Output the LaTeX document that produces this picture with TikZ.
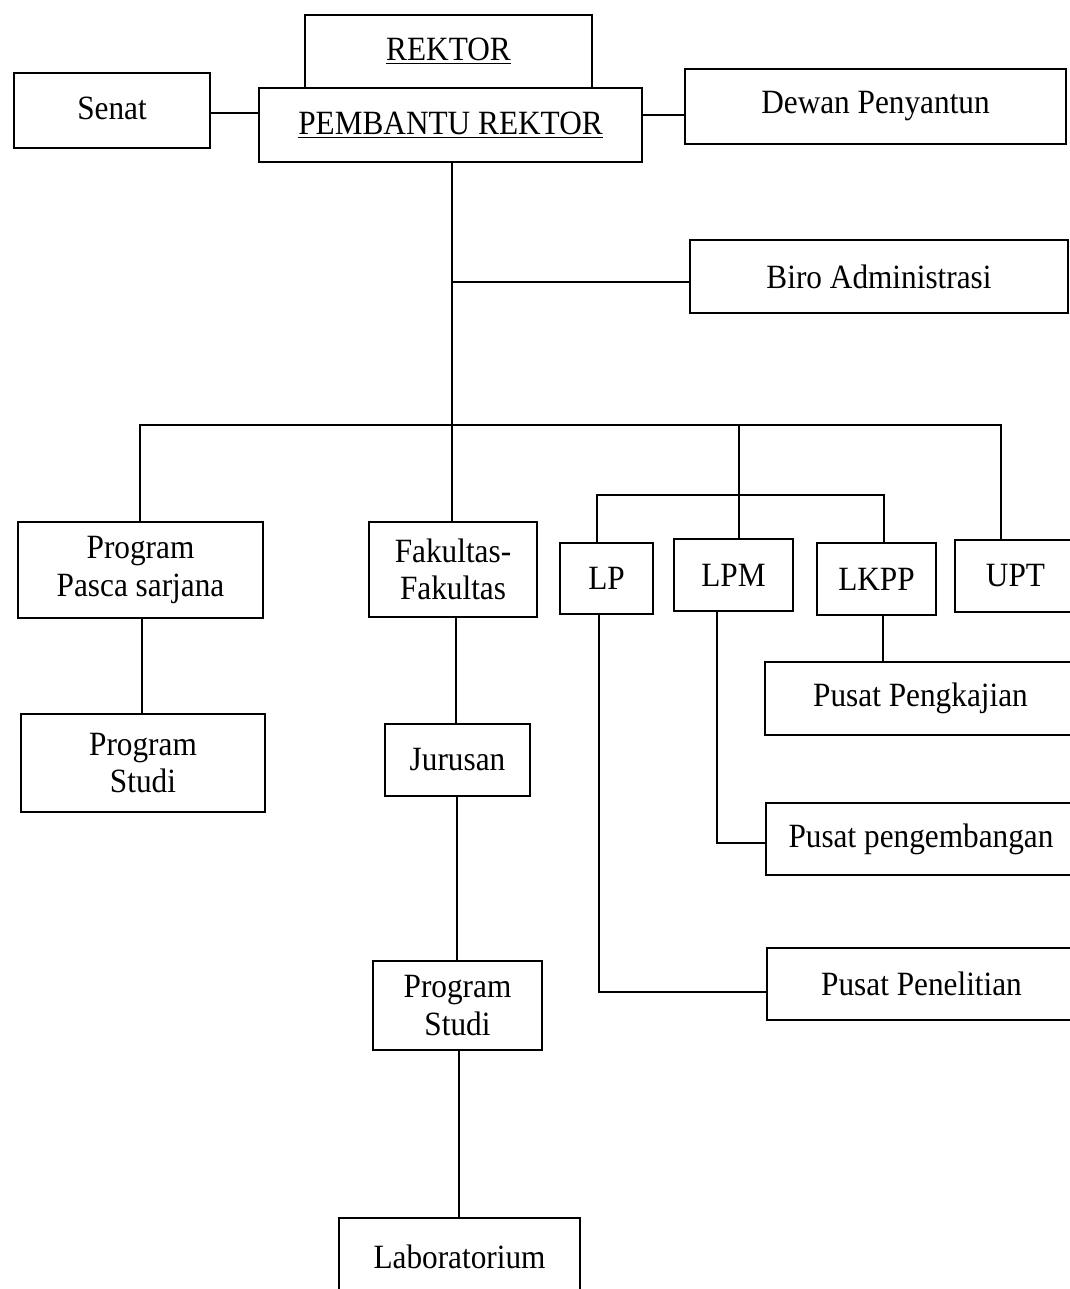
\documentclass[tikz,border=0pt]{standalone}
\usepackage{fontspec}
\setmainfont{Liberation Serif}[FakeStretch=0.92]
\newcommand{\mkbox}[6]{\node[box, minimum width={(#4-#2)*0.75pt}, minimum height={(#5-#3)*0.75pt}] (#1) at ({(#2+#4)/2},{(#3+#5)/2}) {#6};}
\tikzset{
  box/.style={draw, line width=2pt, fill=white, inner sep=0pt, outer sep=0pt, align=center,
    font=\fontsize{25.5}{28}\selectfont},
  conn/.style={line width=1.7pt}
}
\begin{document}
\begin{tikzpicture}[x=0.75pt, y=-0.75pt]
\clip (0,0) rectangle (1070,1289);
\fill[white] (0,0) rectangle (1070,1289);

% boxes
\mkbox{Rektor}{305}{15}{592}{88}{\raisebox{3pt}{\underline{REKTOR}}}
\mkbox{Pem}{259}{88}{642}{162}{\raisebox{2pt}{\underline{PEMBANTU REKTOR}}}
\mkbox{Senat}{14}{73}{210}{148}{\raisebox{3pt}{Senat}}
\mkbox{Dewan}{685}{69}{1066}{144}{Dewan Penyantun}
\mkbox{Biro}{690}{240}{1068}{313}{Biro Administrasi}
\mkbox{Pasca}{18}{522}{263}{618}{Program\\Pasca sarjana}
\mkbox{Fak}{369}{522}{537}{617}{Fakultas-\\Fakultas}
\mkbox{LP}{560}{543}{653}{614}{LP}
\mkbox{LPM}{674}{539}{793}{611}{LPM}
\mkbox{LKPP}{817}{543}{936}{615}{LKPP}
\mkbox{UPT}{955}{540}{1076}{612}{UPT}
\mkbox{PSa}{21}{714}{265}{812}{Program\\Studi}
\mkbox{Jur}{385}{724}{530}{796}{Jurusan}
\mkbox{Pengkajian}{765}{662}{1076}{735}{Pusat Pengkajian}
\mkbox{Pengemb}{766}{803}{1076}{875}{Pusat pengembangan}
\mkbox{Penel}{767}{948}{1076}{1020}{Pusat Penelitian}
\mkbox{PSb}{373}{961}{542}{1050}{Program\\Studi}
\mkbox{Lab}{339}{1218}{580}{1296}{Laboratorium}

% junction coordinates
\coordinate (jBiro) at (452,282);
\coordinate (barL) at (140,425);
\coordinate (barR) at (1001,425);
\coordinate (jLPM) at (739,425);
\coordinate (subL) at (597,495);
\coordinate (subR) at (884,495);
\coordinate (jPeng) at (717,843);
\coordinate (jPen) at (599,992);

% connectors
\draw[conn] (Senat.east |- 0,113) -- (Pem.west |- 0,113);
\draw[conn] (Pem.east |- 0,115) -- (Dewan.west |- 0,115);
\draw[conn] (452,0 |- Pem.south) -- (452,0 |- Fak.north);
\draw[conn] (jBiro) -- (Biro.west |- jBiro);
\draw[conn] (Pasca.north -| barL) -- (barL) -- (barR) -- (UPT.north -| barR);
\draw[conn] (jLPM) -- (LPM.north -| jLPM);
\draw[conn] (LP.north -| subL) -- (subL) -- (subR) -- (LKPP.north -| subR);
\draw[conn] (142,0 |- Pasca.south) -- (142,0 |- PSa.north);
\draw[conn] (456,0 |- Fak.south) -- (456,0 |- Jur.north);
\draw[conn] (457,0 |- Jur.south) -- (457,0 |- PSb.north);
\draw[conn] (459,0 |- PSb.south) -- (459,0 |- Lab.north);
\draw[conn] (883,0 |- LKPP.south) -- (883,0 |- Pengkajian.north);
\draw[conn] (LPM.south -| jPeng) -- (jPeng) -- (Pengemb.west |- jPeng);
\draw[conn] (LP.south -| jPen) -- (jPen) -- (Penel.west |- jPen);
\end{tikzpicture}
\end{document}
